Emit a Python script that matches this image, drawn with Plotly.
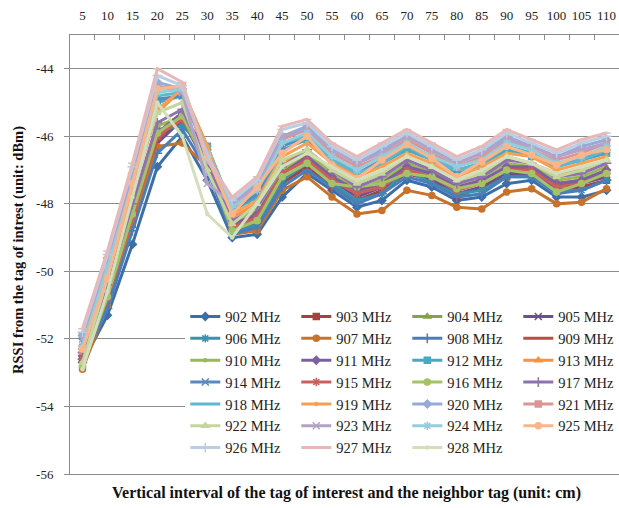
import plotly.graph_objects as go

# Vertical spacing between the tag of interest and its neighbour (cm)
intervals = ["5", "10", "15", "20", "25", "30", "35", "40", "45", "50", "55",
             "60", "65", "70", "75", "80", "85", "90", "95", "100", "105", "110"]

# RSSI (dBm) per carrier frequency
rssi_902 = [-52.7, -51.3, -49.2, -46.9, -46.0, -47.3, -49.0, -48.9, -47.8, -47.1, -47.6, -48.1, -47.9, -47.3, -47.5, -47.9, -47.8, -47.4, -47.3, -47.8, -47.8, -47.6]
rssi_903 = [-52.6, -50.9, -48.5, -46.0, -45.6, -46.3, -48.8, -48.6, -47.4, -46.9, -47.5, -47.9, -47.6, -47.1, -47.3, -47.8, -47.5, -47.2, -47.1, -47.6, -47.5, -47.3]
rssi_904 = [-52.8, -50.7, -48.4, -45.9, -45.4, -46.8, -48.7, -48.3, -47.1, -46.7, -47.3, -47.7, -47.4, -46.9, -47.2, -47.6, -47.3, -47.0, -47.0, -47.4, -47.3, -47.0]
rssi_905 = [-52.5, -50.8, -48.6, -46.2, -45.5, -46.9, -48.8, -48.5, -47.3, -46.8, -47.3, -47.8, -47.5, -47.0, -47.3, -47.7, -47.5, -47.1, -47.1, -47.5, -47.4, -47.2]
rssi_906 = [-52.4, -50.9, -48.3, -45.8, -45.7, -46.4, -48.9, -48.6, -47.3, -46.8, -47.4, -47.9, -47.7, -47.0, -47.4, -47.7, -47.6, -47.2, -47.2, -47.6, -47.6, -47.3]
rssi_907 = [-52.9, -51.0, -48.6, -46.3, -46.2, -46.9, -48.9, -48.8, -47.6, -47.2, -47.8, -48.3, -48.2, -47.6, -47.75, -48.1, -48.15, -47.65, -47.55, -48.0, -47.95, -47.55]
rssi_908 = [-52.6, -51.1, -48.8, -46.5, -45.8, -47.0, -48.9, -48.7, -47.5, -47.0, -47.5, -48.0, -47.7, -47.2, -47.4, -47.8, -47.7, -47.2, -47.2, -47.7, -47.6, -47.3]
rssi_909 = [-52.3, -50.6, -48.2, -46.1, -45.3, -46.5, -48.6, -48.4, -47.0, -46.6, -47.2, -47.6, -47.4, -46.8, -47.1, -47.5, -47.4, -46.9, -47.0, -47.4, -47.4, -47.0]
rssi_910 = [-52.7, -50.5, -48.2, -45.7, -45.4, -46.9, -48.5, -48.2, -47.0, -46.5, -47.1, -47.6, -47.3, -46.8, -47.1, -47.4, -47.2, -46.8, -46.9, -47.3, -47.2, -46.9]
rssi_911 = [-52.5, -50.6, -48.3, -45.9, -45.3, -46.7, -48.6, -48.3, -47.1, -46.6, -47.2, -47.6, -47.4, -46.9, -47.1, -47.5, -47.3, -46.9, -46.9, -47.4, -47.3, -47.0]
rssi_912 = [-51.9, -50.1, -47.6, -45.0, -44.8, -46.3, -48.2, -47.8, -46.4, -46.1, -46.7, -47.2, -46.8, -46.4, -46.7, -47.1, -46.9, -46.4, -46.6, -46.9, -46.7, -46.5]
rssi_913 = [-52.4, -50.3, -47.5, -45.3, -44.6, -46.3, -48.4, -48.0, -46.8, -46.4, -47.0, -47.4, -47.1, -46.6, -46.9, -47.3, -47.1, -46.6, -46.8, -47.1, -47.0, -46.7]
rssi_914 = [-52.1, -50.0, -47.5, -44.9, -44.8, -46.5, -48.2, -47.7, -46.3, -46.0, -46.6, -47.1, -46.7, -46.3, -46.6, -47.0, -46.8, -46.3, -46.5, -46.9, -46.6, -46.4]
rssi_915 = [-52.6, -50.8, -48.4, -46.0, -45.5, -46.6, -48.7, -48.4, -47.1, -46.7, -47.3, -47.7, -47.5, -47.0, -47.2, -47.6, -47.4, -47.0, -47.0, -47.5, -47.4, -47.1]
rssi_916 = [-52.8, -50.75, -48.3, -45.9, -45.4, -46.8, -48.8, -48.5, -47.2, -46.8, -47.4, -47.5, -47.4, -47.1, -47.2, -47.55, -47.4, -47.0, -47.1, -47.65, -47.4, -47.1]
rssi_917 = [-52.4, -50.4, -48.0, -45.6, -45.2, -46.8, -48.5, -48.1, -46.9, -46.4, -47.0, -47.5, -47.2, -46.7, -47.0, -47.4, -47.2, -46.7, -46.8, -47.2, -47.1, -46.8]
rssi_918 = [-52.2, -49.9, -47.4, -44.8, -44.7, -46.3, -48.1, -47.6, -46.2, -46.0, -46.7, -47.1, -46.8, -46.3, -46.7, -47.0, -46.8, -46.3, -46.5, -46.9, -46.7, -46.4]
rssi_919 = [-52.3, -50.1, -47.7, -45.2, -44.6, -46.3, -48.3, -47.9, -46.6, -46.2, -46.8, -47.2, -46.9, -46.5, -46.8, -47.2, -46.9, -46.5, -46.6, -47.0, -46.8, -46.6]
rssi_920 = [-51.9, -49.6, -47.1, -44.4, -44.6, -46.7, -47.9, -47.4, -46.0, -45.7, -46.4, -46.8, -46.4, -46.0, -46.4, -46.8, -46.5, -46.0, -46.3, -46.6, -46.3, -46.1]
rssi_921 = [-52.3, -49.8, -47.3, -44.6, -44.5, -46.6, -48.0, -47.5, -46.1, -45.8, -46.5, -46.9, -46.6, -46.1, -46.5, -46.9, -46.6, -46.1, -46.4, -46.7, -46.5, -46.2]
rssi_922 = [-52.7, -50.2, -47.3, -45.3, -45.0, -47.0, -48.6, -48.0, -46.7, -46.4, -47.0, -47.4, -47.1, -46.6, -46.9, -47.3, -47.1, -46.6, -46.8, -47.2, -47.0, -46.7]
rssi_923 = [-52.0, -49.7, -47.2, -44.5, -44.7, -47.4, -48.0, -47.5, -46.0, -45.8, -46.4, -46.8, -46.5, -46.0, -46.4, -46.8, -46.5, -46.1, -46.3, -46.6, -46.4, -46.2]
rssi_924 = [-52.2, -49.9, -47.4, -44.7, -44.6, -46.5, -48.1, -47.6, -46.2, -45.9, -46.6, -47.0, -46.6, -46.2, -46.6, -46.9, -46.7, -46.2, -46.4, -46.8, -46.6, -46.3]
rssi_925 = [-52.3, -50.2, -47.4, -44.6, -44.5, -46.6, -48.3, -47.5, -46.5, -46.0, -46.85, -47.25, -46.7, -46.25, -46.65, -47.2, -46.75, -46.3, -46.55, -46.85, -46.55, -46.4]
rssi_926 = [-51.8, -49.5, -46.9, -44.2, -44.5, -46.6, -47.9, -47.3, -45.8, -45.6, -46.3, -46.7, -46.3, -45.9, -46.3, -46.7, -46.4, -45.9, -46.2, -46.5, -46.2, -46.0]
rssi_927 = [-51.7, -49.4, -46.8, -44.0, -44.4, -46.7, -47.8, -47.2, -45.7, -45.5, -46.2, -46.6, -46.2, -45.8, -46.2, -46.6, -46.3, -45.8, -46.1, -46.4, -46.1, -45.9]
rssi_928 = [-52.9, -50.6, -47.8, -45.0, -46.0, -48.3, -49.0, -48.0, -46.9, -46.5, -46.9, -47.3, -47.0, -46.6, -46.9, -47.3, -47.0, -46.6, -46.8, -47.1, -46.9, -46.7]

frequencies = ["902 MHz", "903 MHz", "904 MHz", "905 MHz", "906 MHz", "907 MHz", "908 MHz",
               "909 MHz", "910 MHz", "911 MHz", "912 MHz", "913 MHz", "914 MHz", "915 MHz",
               "916 MHz", "917 MHz", "918 MHz", "919 MHz", "920 MHz", "921 MHz", "922 MHz",
               "923 MHz", "924 MHz", "925 MHz", "926 MHz", "927 MHz", "928 MHz"]
series = [rssi_902, rssi_903, rssi_904, rssi_905, rssi_906, rssi_907, rssi_908, rssi_909,
          rssi_910, rssi_911, rssi_912, rssi_913, rssi_914, rssi_915, rssi_916, rssi_917,
          rssi_918, rssi_919, rssi_920, rssi_921, rssi_922, rssi_923, rssi_924, rssi_925,
          rssi_926, rssi_927, rssi_928]

y_ticks = [-56, -54, -52, -50, -48, -46, -44]

colors = ["#3C6EA8", "#A8413E", "#86A34A", "#6A5090", "#3A93AB", "#C8722C",
          "#4A7EBB", "#BE4B48", "#98B954", "#7D60A0", "#46AAC5", "#F69240",
          "#5B88C0", "#C9605D", "#A5C266", "#8D72AE", "#5DB7CE", "#F7A055",
          "#95ABD6", "#D99694", "#C3D69B", "#B3A2C7", "#93CDDD", "#FAB68A",
          "#B9CDE5", "#E6B9B8", "#D3DFBA"]

# marker cycle: diamond, square, triangle, x, star, circle, plus, dash, dot
symbols = ["diamond", "square", "triangle-up", "x-thin-open", "asterisk-open",
           "circle", "cross-thin-open", "line-ew-open", "circle"]
sizes = [6, 6, 6, 7, 7, 6, 7, 6, 3]

serif = "Liberation Serif, Times New Roman, serif"

fig = go.Figure()
for i, (name, vals) in enumerate(zip(frequencies, series)):
    col = colors[i]
    k = i % 9
    fig.add_trace(go.Scatter(
        x=intervals, y=vals, name=name, mode="lines+markers",
        line=dict(color=col, width=3),
        marker=dict(symbol=symbols[k], size=sizes[k], color=col,
                    line=dict(color=col, width=1.5)),
    ))

fig.update_layout(
    width=619, height=508,
    # keep the plot area fixed; the legend sits inside it
    margin=dict(l=70, r=0, t=35, b=34, autoexpand=False),
    paper_bgcolor="white", plot_bgcolor="white",
    font=dict(family=serif, size=13, color="#222222"),
    showlegend=True,
    legend=dict(
        orientation="h", x=0.21, xanchor="left", y=0.395, yanchor="top",
        entrywidth=66, entrywidthmode="pixels",
        bgcolor="white", borderwidth=0,
        font=dict(family=serif, size=14.5, color="#222222"),
        itemwidth=30, traceorder="normal",
    ),
    xaxis=dict(
        type="category", side="top", showgrid=False, automargin=False,
        range=[-0.5, len(intervals) - 0.5],
        showline=True, linecolor="#8C8C8C", linewidth=1, mirror=True,
        ticks="inside", ticklen=5, tickcolor="#8C8C8C", tickson="boundaries",
        tickangle=0, ticklabelstandoff=9,
        tickfont=dict(family=serif, size=13, color="#222222"),
    ),
    yaxis=dict(
        range=[-56, -43], tickvals=y_ticks, ticktext=[str(v) for v in y_ticks],
        automargin=False,
        showgrid=True, gridcolor="#8C8C8C", gridwidth=1, zeroline=False,
        showline=True, linecolor="#8C8C8C", linewidth=1,
        ticks="outside", ticklen=5, tickcolor="#8C8C8C", ticklabelstandoff=8,
        tickfont=dict(family=serif, size=13, color="#222222"),
    ),
    annotations=[
        dict(text="<b>Vertical interval of the tag of interest and the neighbor tag (unit: cm)</b>",
             xref="paper", yref="paper", x=0.504, y=-0.043, xanchor="center", yanchor="middle",
             showarrow=False, font=dict(family=serif, size=16, color="#111111")),
        dict(text="<b>RSSI from the tag of intrest (unit: dBm)</b>",
             xref="paper", yref="paper", x=-0.095, y=0.51, xanchor="center", yanchor="middle",
             textangle=-90, showarrow=False, font=dict(family=serif, size=14.5, color="#111111")),
    ],
)

fig.write_html("out.html")
